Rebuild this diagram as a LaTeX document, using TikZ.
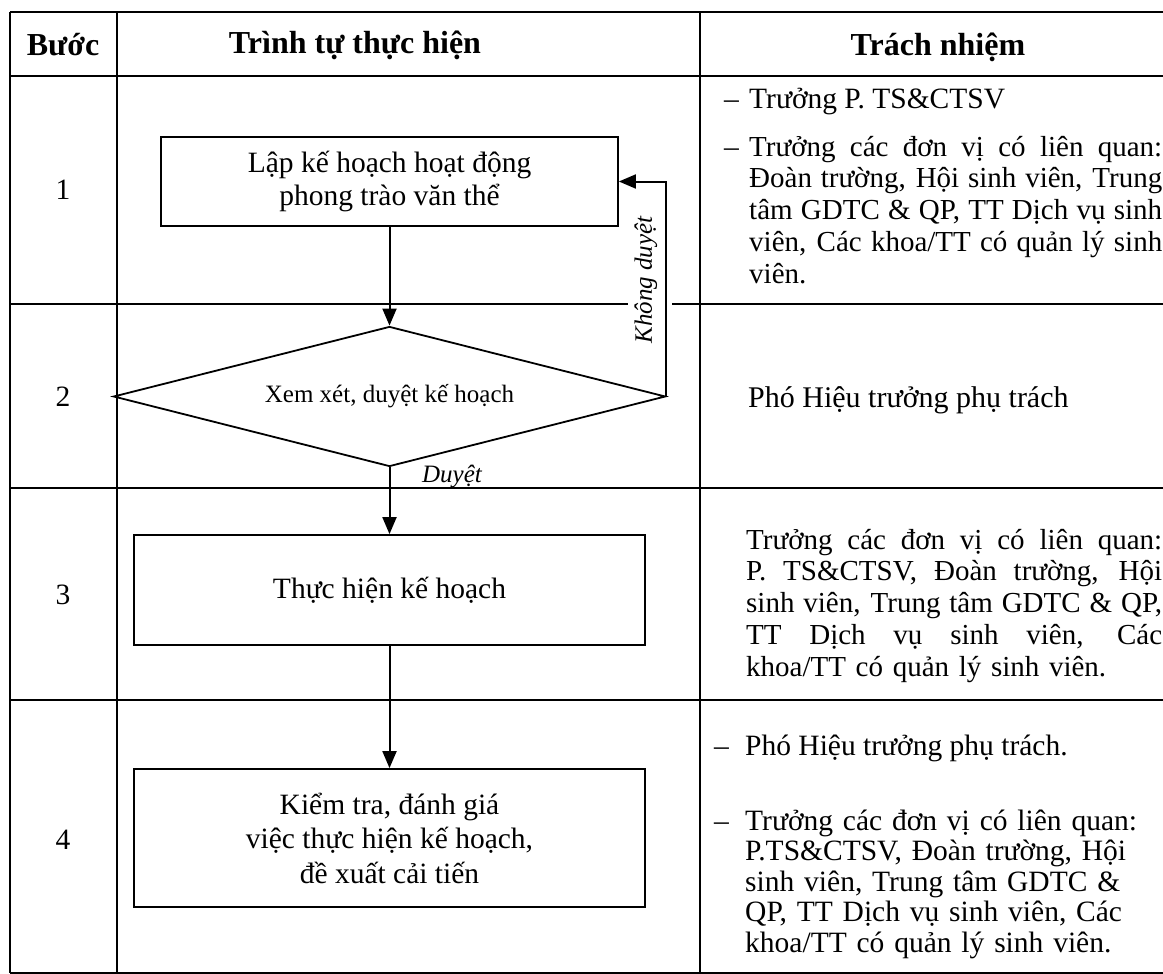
\documentclass[tikz,border=0pt]{standalone}
\usepackage{fontspec}
\setmainfont{Liberation Serif}
\usetikzlibrary{shapes.geometric,arrows.meta}
\newcommand\jlineA[1]{\leavevmode\hbox to 413pt{\spaceskip=0.15em plus 1em minus 0.03em\relax #1}}
\newcommand\jlineB[1]{\leavevmode\hbox to 416pt{\spaceskip=0.15em plus 1em minus 0.03em\relax #1}}
\begin{document}
\begin{tikzpicture}[x=1pt,y=-1pt,
  grid/.style={line width=1.4pt},
  shapebox/.style={draw,line width=1.8pt,inner sep=0pt,align=center,font=\fontsize{29.5}{33}\selectfont},
  decision/.style={draw,diamond,aspect=3.94,line width=1.8pt,inner sep=0pt,minimum width=552pt,minimum height=140pt,font=\fontsize{25}{30}\selectfont},
  arr/.style={line width=2pt,-{Triangle[length=17pt,width=14pt]}},
  head/.style={font=\fontsize{32}{36}\selectfont\bfseries,inner sep=0pt},
  body/.style={font=\fontsize{29.5}{32}\selectfont,inner sep=0pt,anchor=base west},
  tight/.style={font=\fontsize{29}{31.8}\selectfont,inner sep=0pt,anchor=base west},
  num/.style={font=\fontsize{29.5}{33}\selectfont,inner sep=0pt},
  lbl/.style={font=\fontsize{25}{30}\selectfont\itshape,inner sep=0pt}]
\useasboundingbox (0,0) rectangle (1163,974);
% table
\draw[grid] (10,12) -- (1163,12);
\draw[grid] (10,76) -- (1163,76);
\draw[grid] (10,304) -- (628,304);
\draw[grid] (672,304) -- (1163,304);
\draw[grid] (10,488) -- (1163,488);
\draw[grid] (10,700) -- (1163,700);
\draw[grid] (10,973) -- (1163,973);
\draw[grid] (10,12) -- (10,973);
\draw[grid] (117,12) -- (117,973);
\draw[grid] (700,12) -- (700,973);
% header
\node[head] (h1) at (63,45) {Bước};
\node[head] (h2) at (355,45) {Trình tự thực hiện};
\node[head] (h3) at (938,47) {Trách nhiệm};
% step numbers
\node[num] (n1) at (63,190) {1};
\node[num] (n2) at (63,397) {2};
\node[num] (n3) at (63,595) {3};
\node[num] (n4) at (63,840) {4};
% flow
\node[shapebox,minimum width=457pt,minimum height=89pt] (b1) at (389.5,181.5) {Lập kế hoạch hoạt động\\phong trào văn thể};
\node[decision] (d2) at (389.5,396.5) {Xem xét, duyệt kế hoạch};
\node[shapebox,minimum width=511pt,minimum height=110pt] (b3) at (389.5,590) {Thực hiện kế hoạch};
\node[shapebox,minimum width=511pt,minimum height=138pt,font=\fontsize{29.5}{34.5}\selectfont] (b4) at (389.5,838) {Kiểm tra, đánh giá\\việc thực hiện kế hoạch,\\đề xuất cải tiến};
\draw[arr] (b1.south) -- (d2.north);
\draw[arr] (d2.south) -- (b3.north);
\draw[arr] (b3.south) -- (b4.north);
\node[lbl] (lduyet) at (452,477) {Duyệt};
\node[lbl,rotate=90] (lkhong) at (646,280) {Không duyệt};
\draw[arr] (d2.east) |- (b1.east);
% responsibilities
\node[body] (r1d1) at (724,109) {–};
\node[body] (r1t1) at (749,109) {Trưởng P. TS\&CTSV};
\node[body] (r1d2) at (724,156) {–};
\node[tight,text width=413pt,align=left] (r1t2) at (749,156) {\jlineA{Trưởng các đơn vị có liên quan:}\\\jlineA{Đoàn trường, Hội sinh viên, Trung}\\\jlineA{tâm GDTC \& QP, TT Dịch vụ sinh}\\\jlineA{viên, Các khoa/TT có quản lý sinh}\\viên.};
\node[body,font=\fontsize{30}{33}\selectfont] (r2t) at (748,407) {Phó Hiệu trưởng phụ trách};
\node[tight,text width=416pt,align=left] (r3t) at (746,549) {\jlineB{Trưởng các đơn vị có liên quan:}\\\jlineB{P. TS\&CTSV, Đoàn trường, Hội}\\\jlineB{sinh viên, Trung tâm GDTC \& QP,}\\\jlineB{TT Dịch vụ sinh viên, Các}\\khoa/TT có quản lý sinh viên.};
\node[body] (r4d1) at (714,755) {–};
\node[body] (r4t1) at (745,755) {Phó Hiệu trưởng phụ trách.};
\node[body] (r4d2) at (714,830) {–};
\node[body,text width=416pt,align=left,font=\fontsize{29.5}{30.5}\selectfont] (r4t2) at (745,830) {Trưởng các đơn vị có liên quan:\\P.TS\&CTSV, Đoàn trường, Hội\\sinh viên, Trung tâm GDTC \&\\QP, TT Dịch vụ sinh viên, Các\\khoa/TT có quản lý sinh viên.};
\end{tikzpicture}
\end{document}
